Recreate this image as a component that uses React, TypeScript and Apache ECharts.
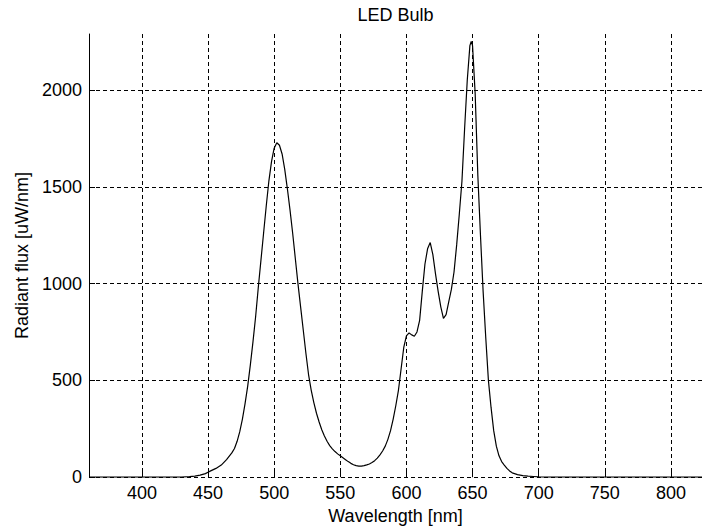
import React, { useEffect, useRef } from "react";
import * as echarts from "echarts";

const wavelengths: number[] = [
  360, 430, 436, 440, 444, 448, 450, 452, 456, 460, 464, 468, 470, 472, 474, 476, 478,
  480, 482, 484, 486, 488, 490, 492, 494, 496, 498, 500, 502, 504, 506, 508, 510, 512,
  514, 516, 518, 520, 522, 524, 526, 528, 530, 532, 534, 536, 538, 540, 542, 544, 546,
  548, 550, 552, 554, 556, 558, 560, 562, 564, 566, 568, 570, 572, 574, 576, 578, 580,
  582, 584, 586, 588, 590, 592, 594, 596, 598, 600, 602, 604, 606, 608, 610, 612, 614,
  616, 618, 620, 622, 624, 626, 628, 630, 632, 634, 636, 638, 640, 642, 644, 646, 648,
  649, 650, 652, 654, 656, 658, 660, 662, 664, 666, 668, 670, 672, 674, 676, 678, 680,
  684, 688, 692, 696, 700, 704, 830,
];

const flux: number[] = [
  0, 0, 2, 5, 10, 18, 25, 32, 45, 62, 90, 125, 148, 185, 235, 300, 380,
  470, 580, 700, 830, 980, 1120, 1260, 1400, 1530, 1630, 1700, 1728, 1715, 1670, 1590, 1490, 1380,
  1260, 1130, 1000, 880, 760, 640, 530, 450, 385, 330, 285, 245, 212, 185, 163, 146, 132,
  120, 110, 100, 90, 80, 71, 64, 59, 57, 57, 59, 63, 68, 75, 85, 98, 115,
  135, 160, 195, 240, 300, 370, 450, 560, 670, 730, 745, 735, 728, 750, 810, 960, 1100,
  1180, 1212, 1150, 1050, 960, 880, 820, 840, 905, 970, 1060, 1200, 1360, 1530, 1800, 2050, 2230,
  2252, 2230, 1980, 1560, 1250, 960, 720, 500, 360, 240, 160, 110, 80, 62, 45, 32, 22,
  13, 8, 5, 3, 1, 0, 0,
];

const chartTitle = "LED Bulb";
const xName = "Wavelength [nm]";
const yName = "Radiant flux [uW/nm]";

const FONT = "Liberation Sans, Arial, sans-serif";

export default function App() {
  const ref = useRef<HTMLDivElement>(null);
  useEffect(() => {
    if (!ref.current) return;
    const chart = echarts.init(ref.current, undefined, { renderer: "svg" });
    const data = wavelengths.map((w, i) => [w, flux[i]]);
    const dash = [4, 3];
    chart.setOption({
      animation: false,
      backgroundColor: "#ffffff",
      textStyle: { fontFamily: FONT },
      grid: { left: 89, right: 0, top: 34, bottom: 50, containLabel: false },
      graphic: [
        {
          type: "text",
          x: 395.5,
          y: 15,
          style: {
            text: chartTitle,
            align: "center",
            verticalAlign: "middle",
            fontSize: 18,
            fontFamily: FONT,
            fill: "#000",
          },
        },
      ],
      xAxis: {
        type: "value",
        min: 360,
        max: 823.5,
        minInterval: 50,
        maxInterval: 50,
        name: xName,
        nameLocation: "middle",
        nameGap: 26,
        nameTextStyle: { fontSize: 18, color: "#000", fontFamily: FONT },
        axisLine: { show: false },
        axisTick: { show: true, inside: true, length: 6, lineStyle: { color: "#000" } },
        axisLabel: {
          fontSize: 18,
          color: "#000",
          margin: 7,
          fontFamily: FONT,
          showMinLabel: false,
          showMaxLabel: false,
          formatter: (v: number) => String(v),
        },
        splitLine: {
          show: true,
          showMinLine: false,
          showMaxLine: false,
          lineStyle: { color: "#000", type: dash, width: 1 },
        },
      },
      yAxis: {
        type: "value",
        min: 0,
        max: 2290,
        interval: 500,
        name: yName,
        nameLocation: "middle",
        nameGap: 52,
        nameTextStyle: { fontSize: 18, color: "#000", fontFamily: FONT },
        axisLine: { show: true, lineStyle: { color: "#000", width: 1 } },
        axisTick: { show: true, inside: true, length: 6, lineStyle: { color: "#000" } },
        axisLabel: {
          fontSize: 18,
          color: "#000",
          margin: 7,
          fontFamily: FONT,
          showMaxLabel: false,
          formatter: (v: number) => String(v),
        },
        splitLine: {
          show: true,
          showMinLine: true,
          showMaxLine: false,
          lineStyle: { color: "#000", type: dash, width: 1 },
        },
      },
      series: [
        {
          type: "line",
          data,
          showSymbol: false,
          smooth: false,
          lineStyle: { color: "#000", width: 1.2 },
          z: 5,
        },
      ],
    });
    return () => chart.dispose();
  }, []);
  return (
    <div
      ref={ref}
      style={{ position: "absolute", left: 0, top: 0, width: 702, height: 530 }}
    />
  );
}
